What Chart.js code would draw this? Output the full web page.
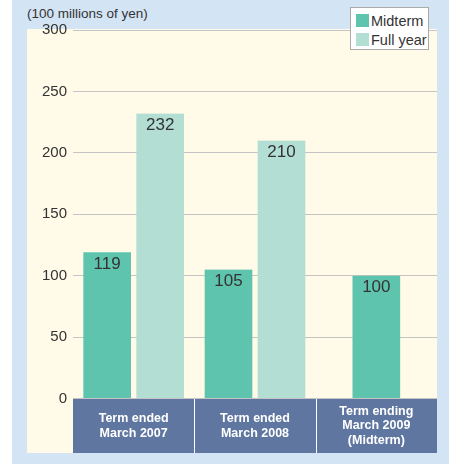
<!DOCTYPE html>
<html>
<head>
<meta charset="utf-8">
<script src="https://cdn.jsdelivr.net/npm/chart.js@4/dist/chart.umd.min.js"></script>
<style>
  html, body { margin: 0; padding: 0; background: #fff; }
  #wrap { position: relative; width: 449px; height: 464px; overflow: hidden; font-family: "Liberation Sans", Arial, sans-serif; }
  #blue { position: absolute; left: 12px; top: 0; width: 437px; height: 464px; background: #d3e4f5; }
  #panel { position: absolute; left: 27px; top: 29px; width: 410px; height: 424px; background: #fffbe8; }
  #unit { position: absolute; left: 27px; top: 6px; font-size: 13.5px; color: #333; }
  #chart { position: absolute; left: 0; top: 0; }
  #legend { position: absolute; left: 350px; top: 7px; width: 77px; height: 41px; background: #fff; border: 1px solid #aaa; font-size: 14.5px; color: #333; }
  #legend .item { position: absolute; left: 5px; height: 14px; line-height: 14px; white-space: nowrap; }
  #legend .sw { display: inline-block; width: 13px; height: 13px; vertical-align: top; margin-right: 2px; }
</style>
</head>
<body>
<div id="wrap">
  <div id="blue"></div>
  <div id="panel"></div>
  <div id="unit">(100 millions of yen)</div>
  <canvas id="chart" width="449" height="464"></canvas>
  <div id="legend"></div>
</div>
<script>
const categories = [
  ["Term ended", "March 2007"],
  ["Term ended", "March 2008"],
  ["Term ending", "March 2009", "(Midterm)"],
];
const midterm = [119, 105, 100];
const fullYear = [232, 210, null];
const seriesNames = ["Midterm", "Full year"];
const seriesColors = ["#5ec4ae", "#b2ded4"];

// legend
const legend = document.getElementById("legend");
seriesNames.forEach((name, i) => {
  const item = document.createElement("div");
  item.className = "item";
  item.style.top = (6 + i * 19) + "px";
  item.innerHTML = `<span class="sw" style="background:${seriesColors[i]}"></span>${name}`;
  legend.appendChild(item);
});

// value labels inside bar tops
const valueLabels = {
  id: "valueLabels",
  afterDatasetsDraw(chart) {
    const ctx = chart.ctx;
    ctx.save();
    ctx.font = "17px 'Liberation Sans', Arial, sans-serif";
    ctx.fillStyle = "#333";
    ctx.textAlign = "center";
    ctx.textBaseline = "middle";
    chart.data.datasets.forEach((ds, di) => {
      chart.getDatasetMeta(di).data.forEach((el, i) => {
        if (ds.data[i] == null) return;
        ctx.fillText(String(ds.data[i]), el.x, el.y + 12);
      });
    });
    ctx.restore();
  },
};

// dark category boxes under the plot
const categoryBoxes = {
  id: "categoryBoxes",
  afterDraw(chart) {
    const ctx = chart.ctx;
    const x = chart.scales.x;
    const area = chart.chartArea;
    const half = (x.getPixelForValue(1) - x.getPixelForValue(0)) / 2;
    const top = area.bottom + 0.5, bottom = 453;
    ctx.save();
    ctx.fillStyle = "#5e76a0";
    ctx.fillRect(area.left, top, area.right - area.left, bottom - top);
    ctx.strokeStyle = "#fff";
    ctx.lineWidth = 1;
    ctx.font = "bold 12.5px 'Liberation Sans', Arial, sans-serif";
    ctx.fillStyle = "#fff";
    ctx.textAlign = "center";
    ctx.textBaseline = "middle";
    categories.forEach((lines, i) => {
      const cx = x.getPixelForValue(i);
      if (i > 0) {
        ctx.beginPath();
        ctx.moveTo(Math.round(cx - half) + 0.5, top);
        ctx.lineTo(Math.round(cx - half) + 0.5, bottom);
        ctx.stroke();
      }
      const lh = 14.5;
      const cy = (top + bottom) / 2;
      lines.forEach((t, j) => {
        ctx.fillText(t, cx, cy + (j - (lines.length - 1) / 2) * lh);
      });
    });
    ctx.restore();
  },
};

new Chart(document.getElementById("chart"), {
  type: "bar",
  data: {
    labels: categories.map((c) => c.join(" ")),
    datasets: [
      {
        label: seriesNames[0],
        data: midterm,
        backgroundColor: seriesColors[0],
        borderColor: "rgba(0,0,0,0)",
        borderWidth: { left: 3, right: 3, top: 0, bottom: 0 },
        borderSkipped: false,
        barThickness: 53,
        skipNull: true,
      },
      {
        label: seriesNames[1],
        data: fullYear,
        backgroundColor: seriesColors[1],
        borderColor: "rgba(0,0,0,0)",
        borderWidth: { left: 3, right: 3, top: 0, bottom: 0 },
        borderSkipped: false,
        barThickness: 53,
        skipNull: true,
      },
    ],
  },
  options: {
    responsive: false,
    animation: false,
    layout: { padding: { top: 30, right: 12, bottom: 65.5, left: 0 } },
    plugins: { legend: { display: false }, tooltip: { enabled: false } },
    scales: {
      x: { display: false },
      y: {
        min: 0,
        max: 300,
        afterFit: (s) => { s.width = 73; },
        border: { display: false },
        grid: { color: "#c4c4c4", lineWidth: 1, drawTicks: false },
        ticks: {
          stepSize: 50,
          padding: 6,
          color: "#333",
          font: { family: "'Liberation Sans', Arial, sans-serif", size: 15 },
        },
      },
    },
  },
  plugins: [valueLabels, categoryBoxes],
});
</script>
</body>
</html>
